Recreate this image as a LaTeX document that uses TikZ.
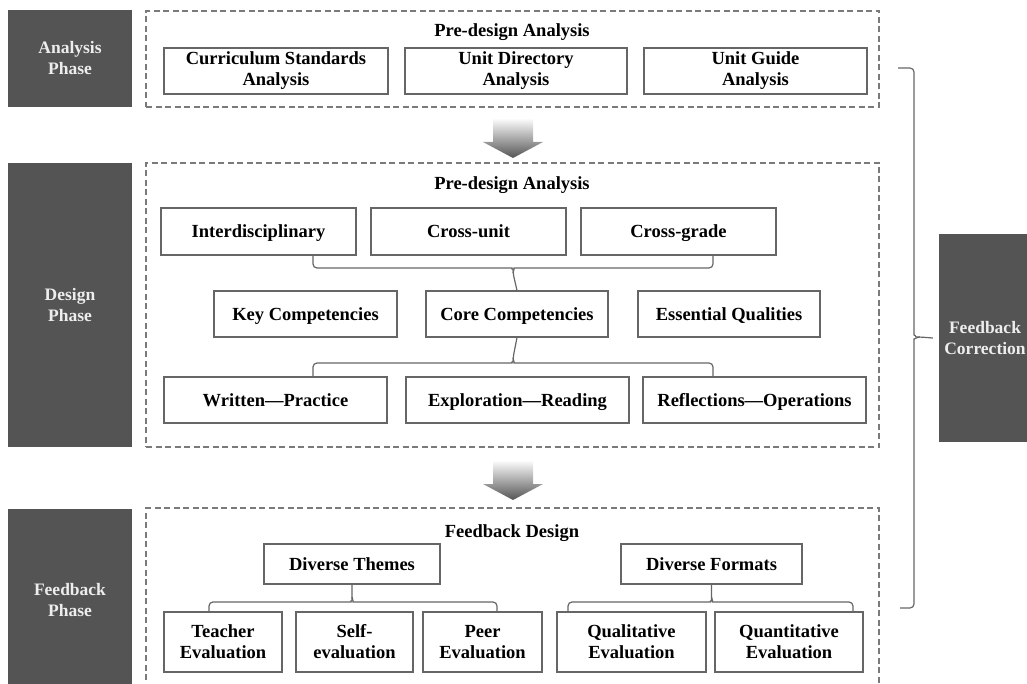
\documentclass[tikz,border=0pt]{standalone}
\usepackage{fontspec}
\setmainfont{Liberation Serif}
\usetikzlibrary{calc}
\definecolor{phase}{HTML}{545454}
\definecolor{phasetext}{HTML}{EDEDED}
\definecolor{edge}{HTML}{666666}
\definecolor{dashc}{HTML}{7A7A7A}
% place a node by its corners: name, x1, y1, x2, y2, style, text
\newcommand\rectnode[7]{%
  \node[#6, minimum width={#4-#2}, minimum height={#5-#3}] (#1)
    at ({(#2+#4)/2},{(#3+#5)/2}) {#7};}
\begin{document}
\begin{tikzpicture}[x=1pt,y=-1pt,
  phasebox/.style={fill=phase, draw=none, text=phasetext, align=center, inner sep=0pt,
    font=\bfseries\fontsize{17.5}{21}\selectfont},
  itembox/.style={draw=edge, line width=1.1pt, fill=white, align=center, inner sep=0pt,
    font=\bfseries\fontsize{18.5}{21}\selectfont},
  oneline/.style={itembox, text height=12.6pt, text depth=0.4pt},
  groupbox/.style={draw=dashc, line width=1.1pt, dash pattern=on 6pt off 3.5pt, inner sep=0pt},
  heading/.style={font=\bfseries\fontsize{18.5}{21}\selectfont, inner sep=0pt,
    text height=12.6pt, text depth=0.4pt},
  link/.style={draw=edge, line width=1.2pt, rounded corners=4pt},
  flow/.style={top color=white, bottom color=phase, draw=none}
]
\clip (0,0) rectangle (1027,684);

% phase labels
\rectnode{phA}{8}{10}{132}{107}{phasebox}{Analysis\\Phase}
\rectnode{phD}{8}{163}{132}{447}{phasebox}{Design\\Phase}
\rectnode{phF}{8}{509}{132}{691}{phasebox}{Feedback\\Phase}
\rectnode{fbC}{939}{234}{1031}{442}{phasebox}{Feedback\\Correction}

% dashed groups
\rectnode{gA}{146}{11}{879}{107}{groupbox}{}
\rectnode{gD}{146}{163}{879}{447}{groupbox}{}
\rectnode{gF}{146}{508}{879}{700}{groupbox}{}

% analysis phase
\node[heading] (tA) at (512,30) {Pre-design Analysis};
\rectnode{a1}{164}{48}{388}{94}{itembox}{Curriculum Standards\\Analysis}
\rectnode{a2}{405}{48}{627}{94}{itembox}{Unit Directory\\Analysis}
\rectnode{a3}{644}{48}{867}{94}{itembox}{Unit Guide\\Analysis}

% design phase
\node[heading] (tD) at (512,183) {Pre-design Analysis};
\rectnode{i1}{161}{208}{356}{255}{oneline}{Interdisciplinary}
\rectnode{i2}{371}{208}{566}{255}{oneline}{Cross-unit}
\rectnode{i3}{581}{208}{776}{255}{oneline}{Cross-grade}
\rectnode{k1}{214}{291}{397}{337}{oneline}{Key Competencies}
\rectnode{k2}{426}{291}{608}{337}{oneline}{Core Competencies}
\rectnode{k3}{638}{291}{820}{337}{oneline}{Essential Qualities}
\rectnode{w1}{164}{377}{387}{423}{oneline}{Written---Practice}
\rectnode{w2}{406}{377}{629}{423}{oneline}{Exploration---Reading}
\rectnode{w3}{643}{377}{866}{423}{oneline}{Reflections---Operations}

% feedback phase
\node[heading] (tF) at (512,531) {Feedback Design};
\rectnode{dT}{264}{544}{440}{584}{oneline}{Diverse Themes}
\rectnode{dM}{621}{544}{802}{584}{oneline}{Diverse Formats}
\rectnode{e1}{164}{612}{282}{672}{itembox}{Teacher\\Evaluation}
\rectnode{e2}{296}{612}{413}{672}{itembox}{Self-\\evaluation}
\rectnode{e3}{423}{612}{542}{672}{itembox}{Peer\\Evaluation}
\rectnode{e4}{557}{612}{706}{672}{itembox}{Qualitative\\Evaluation}
\rectnode{e5}{715}{612}{863}{672}{itembox}{Quantitative\\Evaluation}

% brace joining the first row to the core competencies
\draw[link] ([xshift=54.5pt]i1.south) |- (508,268) to[out=0,in=90] (513,273) -- (k2.north);
\draw[link] ([xshift=34.5pt]i3.south) |- (518,268) to[out=180,in=90] (513,273);

% brace from the core competencies to the third row
\draw[link] (k2.south) -- (513,358) to[out=-90,in=0] (508,363) -| ([xshift=37.5pt]w1.north);
\draw[link] (513,358) to[out=-90,in=180] (518,363) -| ([xshift=-41.5pt]w3.north);

% braces below the two feedback headings
\draw[link] (dT.south) -- (352,597) to[out=-90,in=0] (347,602) -| ([xshift=-14pt]e1.north);
\draw[link] (352,597) to[out=-90,in=180] (357,602) -| ([xshift=14.5pt]e3.north);
\draw[link] (dM.south) -- (711.5,597) to[out=-90,in=0] (706.5,602) -| ([xshift=-63.5pt]e4.north);
\draw[link] (711.5,597) to[out=-90,in=180] (716.5,602) -| ([xshift=64pt]e5.north);

% feedback loop brace on the right
\coordinate (bTop) at (898,68);
\coordinate (bBot) at (900,608);
\draw[link] (bTop) -| (914,331) to[out=-90,in=180] (920,337) -- ([xshift=-6pt]fbC.west);
\draw[link] (bBot) -| (914,343) to[out=90,in=180] (920,337);

% shaded arrows between phases
\shade[flow] (493,118) -- (533,118) -- (533,142) -- (543,142) -- (513,158)
  -- (483,142) -- (493,142) -- cycle;
\shade[flow] (493,460) -- (533,460) -- (533,484) -- (543,484) -- (513,500)
  -- (483,484) -- (493,484) -- cycle;
\end{tikzpicture}
\end{document}
